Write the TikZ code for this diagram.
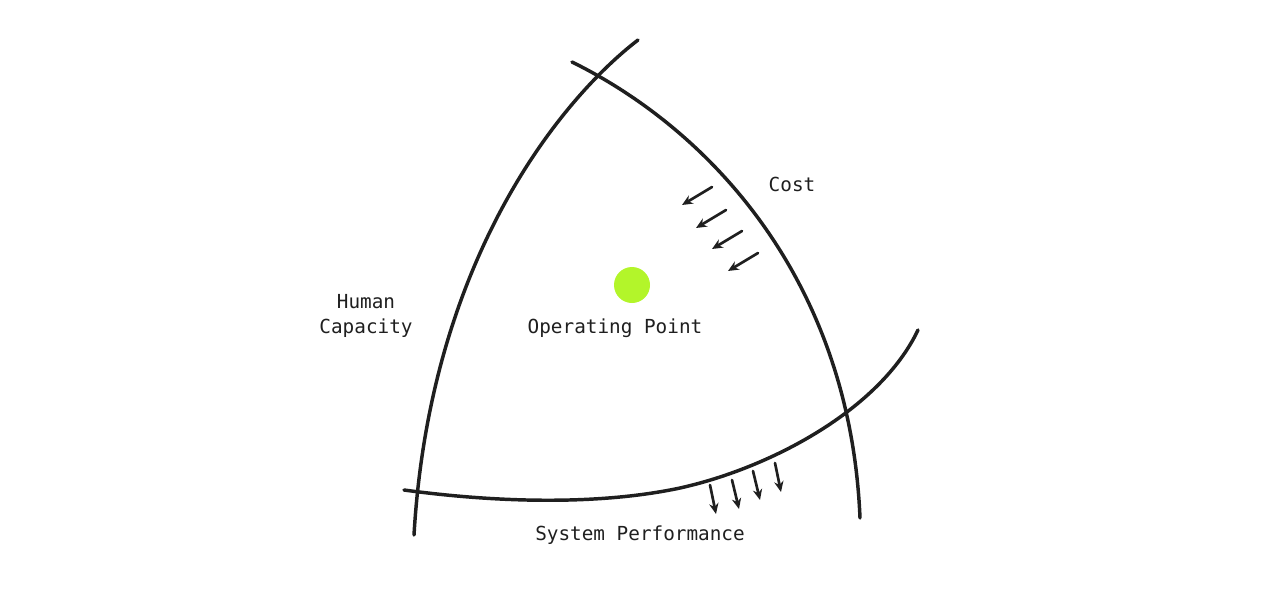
\documentclass[tikz,border=0pt]{standalone}
\usepackage{fontspec}
\setmonofont{DejaVu Sans Mono}
\usetikzlibrary{arrows.meta}
\begin{document}
\begin{tikzpicture}[x=0.75pt,y=-0.75pt,
  curve/.style={line width=2.6pt,color=black!88,line cap=round},
  arr/.style={line width=2pt,color=black!88,line cap=round,-{Stealth[length=8pt,width=7pt]}},
  lbl/.style={font=\ttfamily\fontsize{14.5}{19}\selectfont,color=black!88}]
\useasboundingbox (0,0) rectangle (1280,600);
\draw[curve] (638,40) .. controls (560,100) and (430,260) .. (414,535);
\draw[curve] (572,62) .. controls (710,130) and (850,280) .. (860,518);
\draw[curve] (404,490) .. controls (500,503) and (600,505) .. (680,488) .. controls (770,468) and (880,410) .. (918,330);
\foreach \i/\a/\b/\c/\d in {1/712/187/682/205,2/726/210/696/228,3/742/231/712/249,4/758/253/728/271}{
  \coordinate (cs\i) at (\a,\b); \coordinate (ce\i) at (\c,\d);
  \draw[arr] (cs\i) -- (ce\i);}
\foreach \i/\a/\b/\c/\d in {1/710/485/716/514,2/732/480/739/509,3/753/471/760/500,4/775/463/781/492}{
  \coordinate (ps\i) at (\a,\b); \coordinate (pe\i) at (\c,\d);
  \draw[arr] (ps\i) -- (pe\i);}
\definecolor{dotc}{HTML}{B3F52A}
\node[circle,fill=dotc,minimum size=27pt,inner sep=0] (op) at (632,285) {};
\node[lbl] (cost) at (792,184) {Cost};
\node[lbl,align=center] (hc) at (366,316) {Human\\Capacity};
\node[lbl] (opl) at (615,328) {Operating Point};
\node[lbl] (sp) at (640,535) {System Performance};
\end{tikzpicture}
\end{document}
